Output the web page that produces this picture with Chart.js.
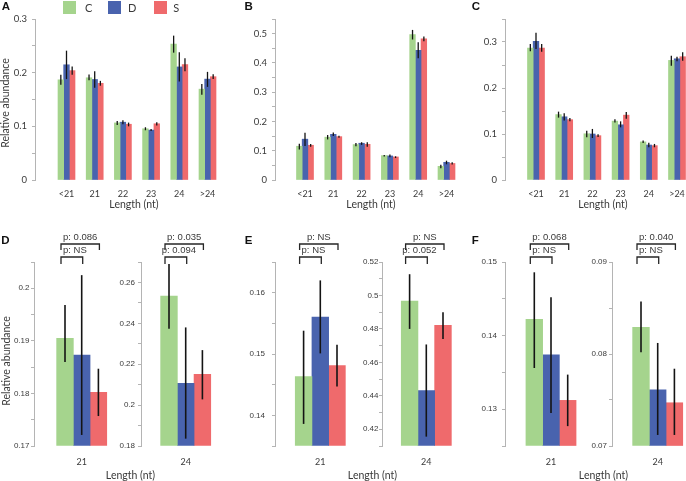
<!DOCTYPE html>
<html>
<head>
<meta charset="utf-8">
<script src="https://cdn.jsdelivr.net/npm/chart.js@4.4.1/dist/chart.umd.min.js"></script>
<style>
html,body{margin:0;padding:0;width:686px;height:481px;overflow:hidden;background:#fff;}
canvas{position:absolute;}
.t{position:absolute;white-space:nowrap;line-height:1;transform:translate(-50%,-50%);color:#3a3a3a;font-family:Lato,"Open Sans",sans-serif;}
.sw{position:absolute;width:13px;height:13px;}
</style>
</head>
<body>
<script>
// ---------------- DATA ----------------
const categories = ['<21', '21', '22', '23', '24', '>24'];
const seriesNames = ['C', 'D', 'S'];

// Panel A
const A_C    = [0.1867, 0.1905, 0.1064, 0.0955, 0.2533, 0.1693];
const A_C_lo = [0.1775, 0.1860, 0.1027, 0.0927, 0.2373, 0.1587];
const A_C_hi = [0.1960, 0.1968, 0.1100, 0.0983, 0.2690, 0.1790];
const A_D    = [0.2147, 0.1873, 0.1077, 0.0930, 0.2107, 0.1880];
const A_D_lo = [0.1880, 0.1721, 0.1039, 0.0915, 0.1836, 0.1735];
const A_D_hi = [0.2410, 0.2025, 0.1114, 0.0952, 0.2380, 0.2015];
const A_S    = [0.2038, 0.1802, 0.1039, 0.1048, 0.2151, 0.1925];
const A_S_lo = [0.1960, 0.1757, 0.1000, 0.1014, 0.2028, 0.1880];
const A_S_hi = [0.2116, 0.1847, 0.1070, 0.1077, 0.2269, 0.1970];

// Panel B
const B_C    = [0.1153, 0.1463, 0.1210, 0.0833, 0.4966, 0.0468];
const B_C_lo = [0.1040, 0.1386, 0.1150, 0.0800, 0.4800, 0.0400];
const B_C_hi = [0.1240, 0.1538, 0.1267, 0.0856, 0.5127, 0.0525];
const B_D    = [0.1395, 0.1560, 0.1256, 0.0822, 0.4432, 0.0605];
const B_D_lo = [0.1165, 0.1501, 0.1200, 0.0776, 0.4156, 0.0537];
const B_D_hi = [0.1610, 0.1620, 0.1290, 0.0868, 0.4707, 0.0660];
const B_S    = [0.1187, 0.1481, 0.1220, 0.0788, 0.4822, 0.0565];
const B_S_lo = [0.1140, 0.1447, 0.1140, 0.0750, 0.4740, 0.0530];
const B_S_hi = [0.1230, 0.1515, 0.1290, 0.0810, 0.4900, 0.0610];

// Panel C
const C_C    = [0.2870, 0.1422, 0.1005, 0.1280, 0.0829, 0.2600];
const C_C_lo = [0.2797, 0.1356, 0.0928, 0.1250, 0.0802, 0.2486];
const C_C_hi = [0.2957, 0.1486, 0.1070, 0.1320, 0.0857, 0.2700];
const C_D    = [0.3014, 0.1374, 0.1000, 0.1200, 0.0761, 0.2635];
const C_D_lo = [0.2848, 0.1295, 0.0913, 0.1145, 0.0712, 0.2580];
const C_D_hi = [0.3200, 0.1452, 0.1110, 0.1275, 0.0812, 0.2680];
const C_S    = [0.2870, 0.1312, 0.0964, 0.1410, 0.0747, 0.2680];
const C_S_lo = [0.2790, 0.1277, 0.0935, 0.1330, 0.0712, 0.2594];
const C_S_hi = [0.2957, 0.1347, 0.0993, 0.1480, 0.0784, 0.2775];

// y-axis ticks: [min, max, tick step, labelled step]
const yTicksA = [0, 0.30, 0.05, 0.1];
const yTicksB = [0, 0.55, 0.05, 0.1];
const yTicksC = [0, 0.35, 0.05, 0.1];
const yTicksD21 = [0.17, 0.205, 0.005, 0.01];
const yTicksD24 = [0.18, 0.27, 0.01, 0.02];
const yTicksE21 = [0.135, 0.165, 0.005, 0.01];
const yTicksE24 = [0.41, 0.52, 0.01, 0.02];
const yTicksF21 = [0.125, 0.15, 0.005, 0.01];
const yTicksF24 = [0.07, 0.09, 0.005, 0.01];

// p-values: [C vs S, C vs D]
const pD21 = ['p: 0.086', 'p: NS'];
const pD24 = ['p: 0.035', 'p: 0.094'];
const pE21 = ['p: NS', 'p: NS'];
const pE24 = ['p: NS', 'p: 0.052'];
const pF21 = ['p: 0.068', 'p: NS'];
const pF24 = ['p: 0.040', 'p: NS'];

// ---------------- STYLE ----------------
const COLORS = ['#a5d48d', '#4963ae', '#ef6a6c'];
const TXT = '#3a3a3a';
const AXIS = '#b4b4b4';

function fmt(v) { return String(parseFloat(v.toFixed(4))); }

function errPlugin(lo, hi, color, width) {
  return {
    id: 'errbars',
    afterDatasetsDraw(chart) {
      const ctx = chart.ctx, ys = chart.scales.y;
      ctx.save();
      ctx.strokeStyle = color; ctx.lineWidth = width;
      lo.forEach((arr, i) => {
        chart.getDatasetMeta(i).data.forEach((el, j) => {
          ctx.beginPath();
          ctx.moveTo(el.x, ys.getPixelForValue(hi[i][j]));
          ctx.lineTo(el.x, ys.getPixelForValue(arr[j]));
          ctx.stroke();
        });
      });
      ctx.restore();
    }
  };
}

function bracketPlugin(items) {
  return {
    id: 'brackets',
    afterDraw(chart) {
      const ctx = chart.ctx, top = chart.chartArea.top;
      ctx.save();
      ctx.strokeStyle = '#262626'; ctx.lineWidth = 1.3; ctx.fillStyle = TXT;
      ctx.font = '9.5px "Liberation Sans", Arial, sans-serif';
      ctx.textAlign = 'center'; ctx.textBaseline = 'middle';
      items.forEach(b => {
        const x1 = chart.getDatasetMeta(b.from).data[0].x - 4;
        const x2 = chart.getDatasetMeta(b.to).data[0].x + 1;
        const y = top + b.dy;
        ctx.beginPath();
        ctx.moveTo(x1, y + b.leg); ctx.lineTo(x1, y); ctx.lineTo(x2, y); ctx.lineTo(x2, y + b.leg);
        ctx.stroke();
        ctx.fillText(b.label, (x1 + x2) / 2 + b.tx, y - 6.5);
      });
      ctx.restore();
    }
  };
}

function makeChart(s) {
  const xMin = -s.gap / s.unit;
  const xMax = xMin + (s.right - s.axisX) / s.unit;
  const left = s.axisX - s.yw;
  const top = s.top - s.pt;
  const pr = s.pr || 0;
  const w = s.right - left + pr;
  const h = s.pt + (s.bottom - s.top) + s.xh;
  const cv = document.createElement('canvas');
  cv.width = w; cv.height = h;
  Object.assign(cv.style, { left: left + 'px', top: top + 'px', width: w + 'px', height: h + 'px' });
  document.body.appendChild(cv);
  const [ymin, ymax, ystep, ymajor] = s.yTicks;
  const plugins = [errPlugin(s.lo, s.hi, '#141414', s.errW)];
  if (s.brackets) plugins.push(bracketPlugin(s.brackets));
  return new Chart(cv, {
    type: 'bar',
    data: {
      datasets: s.vals.map((arr, i) => ({
        label: seriesNames[i],
        data: arr.map((v, j) => ({ x: j, y: v })),
        backgroundColor: COLORS[i],
        borderWidth: 0,
        barThickness: s.barW,
        base: ymin,
        clip: 0
      }))
    },
    options: {
      responsive: false, animation: false, devicePixelRatio: 1,
      layout: { padding: { top: s.pt, right: pr, left: 0, bottom: 0 } },
      plugins: { legend: { display: false }, tooltip: { enabled: false } },
      scales: {
        x: {
          type: 'linear', min: xMin, max: xMax, offset: false,
          afterBuildTicks: a => { a.ticks = s.cats.map((c, j) => ({ value: j })); },
          afterFit: a => { a.height = s.xh; },
          grid: { display: false }, border: { display: false },
          ticks: { autoSkip: false, maxRotation: 0, padding: s.xPad, color: TXT, font: s.xFont,
                   callback: v => s.cats[v] }
        },
        y: {
          type: 'linear', min: ymin, max: ymax, beginAtZero: false,
          afterFit: a => { a.width = s.yw; },
          grid: { display: true, drawOnChartArea: false, drawTicks: true, tickLength: 3, color: AXIS, lineWidth: 1 },
          border: { display: true, color: AXIS, width: 1 },
          ticks: { stepSize: ystep, padding: s.yPad, color: TXT, font: s.yFont, autoSkip: false,
                   callback: v => { const r = v / ymajor; return Math.abs(r - Math.round(r)) < 1e-6 ? fmt(v) : ''; } }
        }
      }
    },
    plugins
  });
}

// ---------------- TOP PANELS ----------------
const topBase = { top: 19, bottom: 180, pt: 19, xh: 22, yw: 35, unit: 28.2, barW: 5.67, errW: 1.3,
  xPad: 1, yPad: 5, cats: categories,
  xFont: { family: 'Lato', size: 9 }, yFont: { family: 'Lato', size: 9.5 } };

makeChart(Object.assign({}, topBase, { axisX: 35, gap: 31.5, right: 222, pr: 3, yTicks: yTicksA,
  vals: [A_C, A_D, A_S], lo: [A_C_lo, A_D_lo, A_S_lo], hi: [A_C_hi, A_D_hi, A_S_hi] }));
makeChart(Object.assign({}, topBase, { axisX: 275, gap: 30, unit: 28.3, right: 460, pr: 3, yTicks: yTicksB,
  vals: [B_C, B_D, B_S], lo: [B_C_lo, B_D_lo, B_S_lo], hi: [B_C_hi, B_D_hi, B_S_hi] }));
makeChart(Object.assign({}, topBase, { axisX: 505, gap: 31, right: 686, pr: 0, yTicks: yTicksC,
  vals: [C_C, C_D, C_S], lo: [C_C_lo, C_D_lo, C_S_lo], hi: [C_C_hi, C_D_hi, C_S_hi] }));

// ---------------- BOTTOM PANELS (zoom on 21 nt and 24 nt) ----------------
const pick = (arrs, k) => arrs.map(a => [a[k]]);
function brackets(p) {
  return [
    { from: 0, to: 2, label: p[0], dy: -18, leg: 6, tx: 0 },
    { from: 0, to: 1, label: p[1], dy: -5, leg: 7, tx: 3 }
  ];
}
const botBase = { top: 262, bottom: 446, pt: 32, xh: 28, yw: 30, barW: 16.7, errW: 1.6, xPad: 3, pr: 0,
  xFont: { family: 'Lato', size: 9 }, yFont: { family: 'Liberation Sans', size: 8 } };

function bottomPair(vals, lo, hi, axL, axR, gapL, gapR, rightL, rightR, ytL, ytR, pL, pR, padL, padR, ywL) {
  makeChart(Object.assign({}, botBase, { axisX: axL, gap: gapL, unit: gapL, right: rightL, yTicks: ytL, yPad: padL,
    yw: ywL || 30, cats: [categories[1]], vals: pick(vals, 1), lo: pick(lo, 1), hi: pick(hi, 1), brackets: brackets(pL) }));
  makeChart(Object.assign({}, botBase, { axisX: axR, gap: gapR, unit: gapR, right: rightR, yTicks: ytR, yPad: padR,
    cats: [categories[4]], vals: pick(vals, 4), lo: pick(lo, 4), hi: pick(hi, 4), brackets: brackets(pR) }));
}

bottomPair([A_C, A_D, A_S], [A_C_lo, A_D_lo, A_S_lo], [A_C_hi, A_D_hi, A_S_hi],
  34, 141, 47.7, 44.7, 129, 228, yTicksD21, yTicksD24, pD21, pD24, 1.5, 3, 34);
bottomPair([B_C, B_D, B_S], [B_C_lo, B_D_lo, B_S_lo], [B_C_hi, B_D_hi, B_S_hi],
  275, 382, 45.3, 44.3, 366, 472, yTicksE21, yTicksE24, pE21, pE24, 7, 0.5);
bottomPair([C_C, C_D, C_S], [C_C_lo, C_D_lo, C_S_lo], [C_C_hi, C_D_hi, C_S_hi],
  505, 612, 46, 45.7, 596, 686, yTicksF21, yTicksF24, pF21, pF24, 5, 2);

// ---------------- TEXT: panel letters, legend, axis titles ----------------
function label(txt, x, y, css) {
  const d = document.createElement('div');
  d.className = 't';
  d.textContent = txt;
  d.style.left = x + 'px'; d.style.top = y + 'px';
  if (css) d.style.cssText += css;
  document.body.appendChild(d);
  return d;
}
const letterCss = 'font-family:"Liberation Sans",Arial,sans-serif;font-weight:bold;font-size:11.5px;color:#111;';
[['A', 6, 7], ['B', 248.7, 7], ['C', 476, 7], ['D', 5.5, 240.5], ['E', 248.7, 240.5], ['F', 475.3, 240.5]]
  .forEach(([t, x, y]) => label(t, x, y, letterCss));

// legend
const swX = [63, 108, 153.5];
const lgX = [88.8, 132.2, 176.2];
seriesNames.forEach((n, i) => {
  const sw = document.createElement('div');
  sw.className = 'sw';
  sw.style.left = swX[i] + 'px'; sw.style.top = '0.5px'; sw.style.background = COLORS[i];
  document.body.appendChild(sw);
  label(n, lgX[i], 7, 'font-size:11px;');
});

// axis titles
const yTitleCss = 'font-size:10.5px;transform:translate(-50%,-50%) rotate(-90deg);';
label('Relative abundance', 5, 103, yTitleCss);
label('Relative abundance', 6, 361, yTitleCss);
[[134, 204], [371, 204], [603, 204], [130.5, 475], [372.5, 475], [603.5, 475]]
  .forEach(([x, y]) => label('Length (nt)', x, y, 'font-size:10.5px;'));
</script>
</body>
</html>
